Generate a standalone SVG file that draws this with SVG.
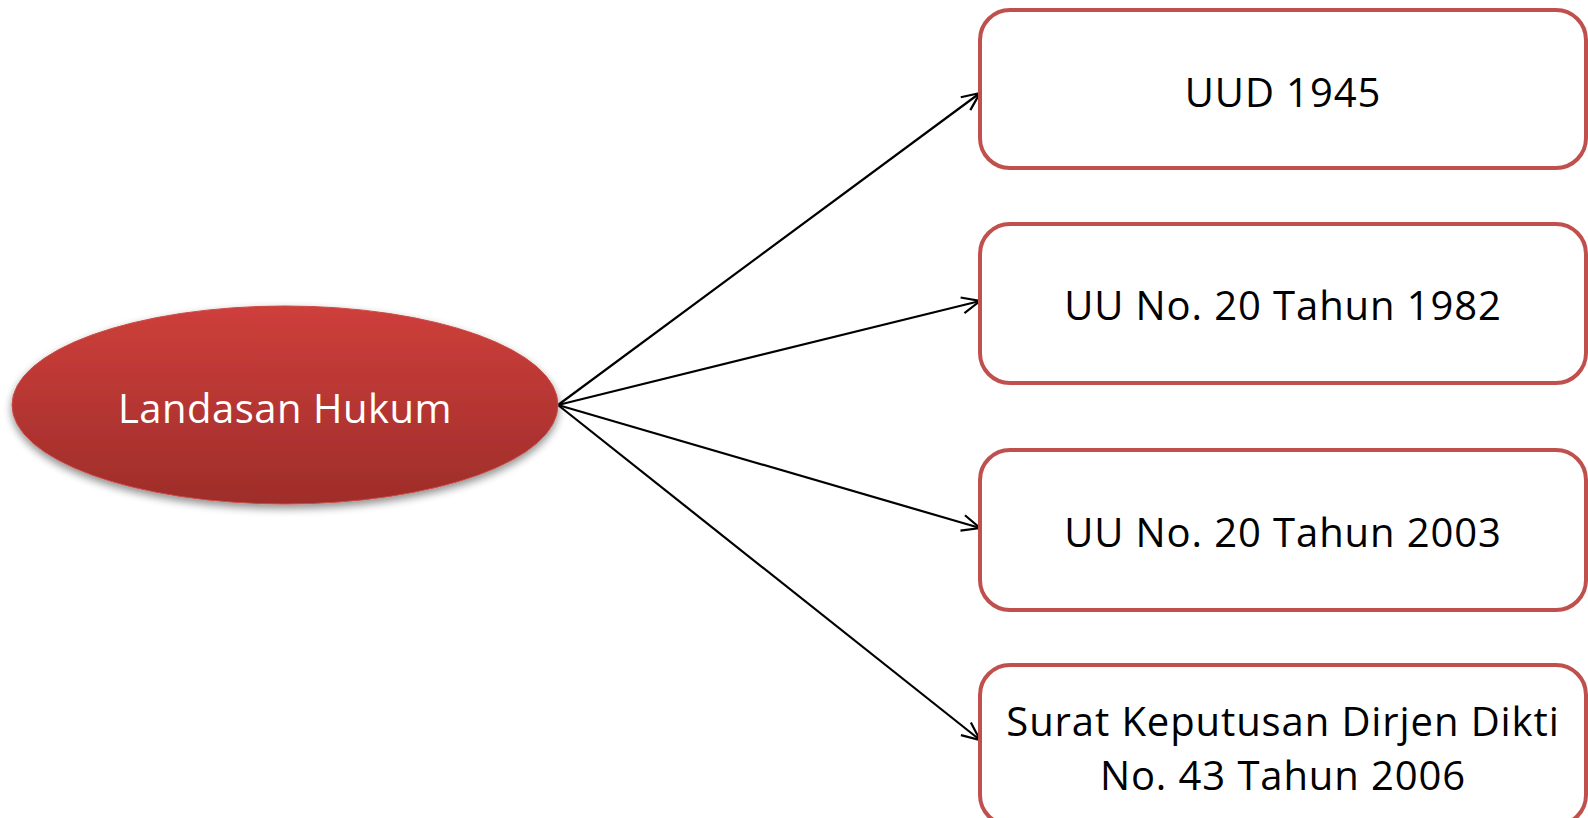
<svg xmlns="http://www.w3.org/2000/svg" width="1588" height="818" viewBox="0 0 1588 818">
  <style>
    .box rect { fill: #ffffff; stroke: #c0504d; stroke-width: 4; }
    .label { font-family: "Open Sans", "Liberation Sans", sans-serif; font-size: 40px; letter-spacing: 0.9px; fill: #000000; text-anchor: middle; }
    .root-label { font-family: "Open Sans", "Liberation Sans", sans-serif; font-size: 40px; letter-spacing: 0.5px; fill: #ffffff; text-anchor: middle; }
    .edge { stroke: #000000; stroke-width: 2.2; fill: none; marker-end: url(#open-arrow); }
  </style>
  <defs>
    <linearGradient id="root-fill" x1="0" y1="0" x2="0" y2="1">
      <stop offset="0" stop-color="#ce3f3b"/>
      <stop offset="1" stop-color="#9e2d2a"/>
    </linearGradient>
    <filter id="soft-shadow" x="-10%" y="-10%" width="120%" height="140%">
      <feGaussianBlur in="SourceAlpha" stdDeviation="4"/>
      <feOffset dx="0" dy="4" result="b"/>
      <feComponentTransfer><feFuncA type="linear" slope="0.45"/></feComponentTransfer>
      <feMerge><feMergeNode/><feMergeNode in="SourceGraphic"/></feMerge>
    </filter>
    <marker id="open-arrow" viewBox="0 0 20 20" refX="19" refY="10" markerWidth="20" markerHeight="20" markerUnits="userSpaceOnUse" orient="auto">
      <path d="M1,2 L19,10 L1,18" fill="none" stroke="#000000" stroke-width="2.2"/>
    </marker>
  </defs>

  <g id="connectors">
    <line class="edge" x1="558" y1="405" x2="980" y2="93"/>
    <line class="edge" x1="558" y1="405" x2="980" y2="301"/>
    <line class="edge" x1="558" y1="405" x2="980" y2="528"/>
    <line class="edge" x1="558" y1="405" x2="980" y2="740"/>
  </g>

  <g id="node-root">
    <ellipse cx="285" cy="405" rx="273" ry="99" fill="url(#root-fill)" stroke="#c94a46" stroke-width="1" filter="url(#soft-shadow)"/>
    <text class="root-label" x="285" y="423">Landasan Hukum</text>
  </g>

  <g id="node-uud1945" class="box">
    <rect x="980" y="10" width="606" height="158" rx="30" ry="30"/>
    <text class="label" x="1283" y="107">UUD 1945</text>
  </g>

  <g id="node-uu1982" class="box">
    <rect x="980" y="224" width="606" height="159" rx="30" ry="30"/>
    <text class="label" x="1283" y="320">UU No. 20 Tahun 1982</text>
  </g>

  <g id="node-uu2003" class="box">
    <rect x="980" y="450" width="606" height="160" rx="30" ry="30"/>
    <text class="label" x="1283" y="547">UU No. 20 Tahun 2003</text>
  </g>

  <g id="node-skdikti" class="box">
    <rect x="980" y="665" width="606" height="160" rx="30" ry="30"/>
    <text class="label" x="1283" y="736">Surat Keputusan Dirjen Dikti</text>
    <text class="label" x="1283" y="790">No. 43 Tahun 2006</text>
  </g>
</svg>
